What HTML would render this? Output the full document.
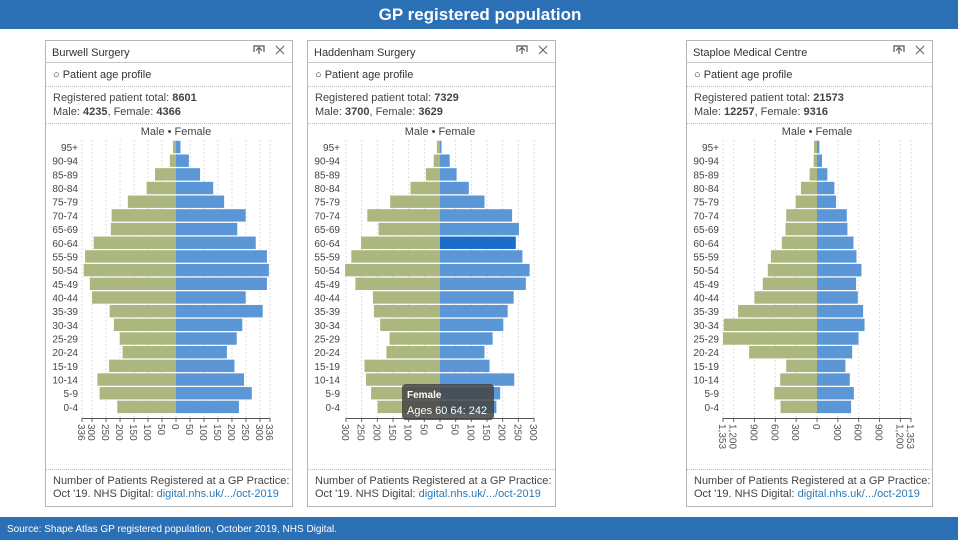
<!DOCTYPE html>
<html><head><meta charset="utf-8"><style>
html,body{margin:0;padding:0;width:960px;height:540px;overflow:hidden;background:#fff;font-family:"Liberation Sans",sans-serif;}
svg{position:absolute;left:0;top:0;}
</style></head><body>
<svg id="s" width="960" height="540" viewBox="0 0 960 540">
<rect x="0" y="0" width="958" height="29" fill="#2b6fb4"/>
<text x="480" y="20" text-anchor="middle" font-size="17" font-weight="bold" fill="#fff">GP registered population</text>
<rect x="0" y="517" width="958" height="23" fill="#2b6fb4"/>
<text x="7" y="532" font-size="10" fill="#fff">Source: Shape Atlas GP registered population, October 2019, NHS Digital.</text>
<g id="panels"></g>
</svg>
<script>
const ages = ["95+","90-94","85-89","80-84","75-79","70-74","65-69","60-64","55-59","50-54","45-49","40-44","35-39","30-34","25-29","20-24","15-19","10-14","5-9","0-4"];
const burwellMale = [11,22,75,105,172,230,233,294,325,330,308,300,237,222,201,191,239,281,273,210];
const burwellFemale = [16,46,86,133,172,249,219,285,325,332,325,249,310,237,217,182,209,243,271,225];
const haddenhamMale = [10,20,45,94,159,232,196,252,283,303,270,214,211,191,161,171,241,236,220,199];
const haddenhamFemale = [5,31,53,92,142,230,252,242,263,286,274,235,216,202,168,142,158,237,192,180];
const staploeMale = [43,48,106,231,308,443,453,506,664,708,780,900,1136,1343,1353,977,443,530,616,525];
const staploeFemale = [34,72,149,250,274,429,438,525,568,640,563,587,664,684,597,506,409,472,530,491];
const burwellTicks = ["336","300","250","200","150","100","50","0","50","100","150","200","250","300","336"];
const burwellTickVals = [336,300,250,200,150,100,50,0,50,100,150,200,250,300,336];
const haddenhamTicks = ["300","250","200","150","100","50","0","50","100","150","200","250","300"];
const haddenhamTickVals = [300,250,200,150,100,50,0,50,100,150,200,250,300];
const staploeTicks = ["1,353","1,200","900","600","300","0","300","600","900","1,200","1,353"];
const staploeTickVals = [1353,1200,900,600,300,0,300,600,900,1200,1353];

const NS="http://www.w3.org/2000/svg";
const root=document.getElementById('panels');
function mk(tag,attrs,parent,txt){const e=document.createElementNS(NS,tag);for(const k in attrs)e.setAttribute(k,attrs[k]);if(txt!==undefined)e.textContent=txt;(parent||root).appendChild(e);return e;}

const panels=[
 {x:45,w:247,name:"Burwell Surgery",total:"8601",male:"4235",female:"4366",m:burwellMale,f:burwellFemale,max:336,ticks:burwellTicks,tv:burwellTickVals,cx:131,hl:-1},
 {x:307,w:248,name:"Haddenham Surgery",total:"7329",male:"3700",female:"3629",m:haddenhamMale,f:haddenhamFemale,max:300,ticks:haddenhamTicks,tv:haddenhamTickVals,cx:133,hl:7},
 {x:686,w:246,name:"Staploe Medical Centre",total:"21573",male:"12257",female:"9316",m:staploeMale,f:staploeFemale,max:1353,ticks:staploeTicks,tv:staploeTickVals,cx:131,hl:-1}
];
const HALF=94, Y0=147, STEP=13.68, BH=12.4, AXY=418;

panels.forEach((p,pi)=>{
 const g=mk('g',{});
 
 
 const card=mk('rect',{x:p.x+.5,y:40.5,width:p.w,height:466,fill:'#fff',stroke:'#b5b5b5'},g);
 
 
 mk('line',{x1:p.x,x2:p.x+p.w,y1:62.5,y2:62.5,stroke:'#c8c8c8'},g);
 const t=mk('text',{x:p.x+7,y:56,'font-size':11,fill:'#333'},g,p.name);
 
 
 const pop=mk('g',{},g);
 
 
 mk('path',{d:`M${p.x+p.w-38} 52 v-6 h10 v6 M${p.x+p.w-33} 54 v-6 M${p.x+p.w-36} 50.5 l3 -3 l3 3`,stroke:'#555',fill:'none','stroke-width':1.2},pop);
 const cl=mk('path',{d:`M${p.x+p.w-16} 46 l8 8 M${p.x+p.w-8} 46 l-8 8`,stroke:'#666','stroke-width':1.1},g);
 
 
 const ap=mk('text',{x:p.x+8,y:78,'font-size':11,fill:'#333'},g,'○ Patient age profile');
 
 
 [86.5,123.5,469.5].forEach(y=>mk('line',{x1:p.x+1,x2:p.x+p.w,y1:y,y2:y,stroke:'#bbb','stroke-dasharray':'1 1'},g));
 const tt=mk('text',{x:p.x+8,y:101,'font-size':11,fill:'#444'},g);
 
 
 mk('tspan',{},tt,'Registered patient total: ');mk('tspan',{'font-weight':'bold'},tt,p.total);
 const mf=mk('text',{x:p.x+8,y:115,'font-size':11,fill:'#444'},g);
 
 
 mk('tspan',{},mf,'Male: ');mk('tspan',{'font-weight':'bold'},mf,p.male);mk('tspan',{},mf,', Female: ');mk('tspan',{'font-weight':'bold'},mf,p.female);
 const cx=p.x+p.cx;
 const lg=mk('text',{x:cx,y:135,'font-size':11,fill:'#444','text-anchor':'middle'},g,'Male • Female');
 
 
 const sx=v=>v/p.max*HALF;
 // grid + ticks
 p.tv.forEach((v,i)=>{
  const x=cx+(i<p.tv.length/2-0.5?-1:(i===Math.floor(p.tv.length/2)?0:1))*sx(v);
  mk('line',{x1:x,x2:x,y1:140,y2:AXY,stroke:'#ddd','stroke-dasharray':'2 2'},g);
  mk('line',{x1:x,x2:x,y1:AXY,y2:AXY+4,stroke:'#666'},g);
  const tl=mk('text',{x:x-4,y:AXY+6,'font-size':10,fill:'#555',transform:`rotate(90 ${x-4} ${AXY+6})`},g,p.ticks[i]);
  
  
 });
 mk('line',{x1:cx-HALF,x2:cx+HALF,y1:AXY+.5,y2:AXY+.5,stroke:'#555'},g);
 ages.forEach((a,i)=>{
  const yc=Y0+i*STEP;
  const al=mk('text',{x:p.x+33,y:yc+4,'font-size':10,fill:'#444','text-anchor':'end'},g,a);
  
  
  const wm=sx(p.m[i]);
  const bm=mk('rect',{x:cx-wm,y:yc-BH/2,width:wm,height:BH,fill:'#abb77e'},g);
  
  
  const wf=sx(p.f[i]);
  const bf=mk('rect',{x:cx,y:yc-BH/2,width:wf,height:BH,fill:i===p.hl?'#1a6ec9':'#5b97d6'},g);
  
  
 });
 const f1=mk('text',{x:p.x+8,y:484,'font-size':11,fill:'#444'},g,'Number of Patients Registered at a GP Practice:');
 
 
 const f2=mk('text',{x:p.x+8,y:497,'font-size':11,fill:'#444'},g);
 
 
 mk('tspan',{},f2,"Oct '19. NHS Digital: ");mk('tspan',{fill:'#2a7ab8'},f2,'digital.nhs.uk/.../oct-2019');
 if(p.hl>=0){
  const tg=mk('g',{},g);
  
  
  mk('rect',{x:p.x+95,y:384,width:92,height:36,rx:4,fill:'#444','fill-opacity':0.85},tg);
  mk('text',{x:p.x+100,y:398,'font-size':10,'font-weight':'bold',fill:'#fff'},tg,'Female');
  mk('text',{x:p.x+100,y:414,'font-size':11,fill:'#fff'},tg,'Ages 60 64: '+p.f[p.hl]);
 }
});
</script>
</body></html>
